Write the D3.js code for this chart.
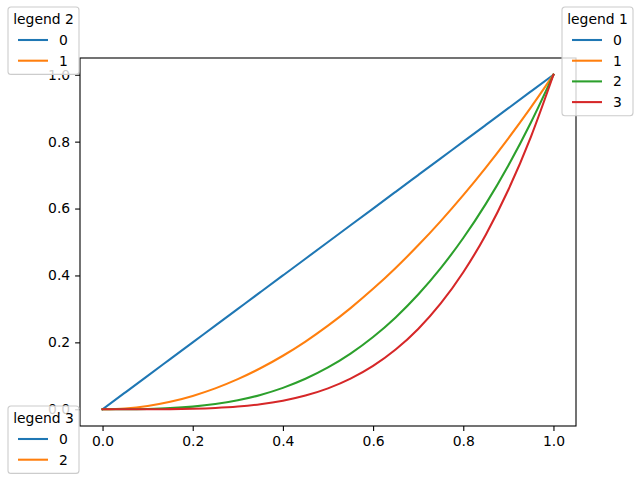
<!DOCTYPE html>
<html lang="en">
<head>
<meta charset="UTF-8"/>
<title>legends</title>
<style>
  body { margin: 0; background: #fff; }
  svg text { font-family: "DejaVu Sans", sans-serif; font-size: 13.9px; fill: #000; }
</style>
</head>
<body>
<svg id="chart" width="640" height="480"></svg>
<script src="https://d3js.org/d3.v7.min.js"></script>
<script type="text/javascript">

    // x positions shared by all series
    var xs = [0, 0.05, 0.1, 0.15, 0.2, 0.25, 0.3, 0.35, 0.4, 0.45, 0.5,
              0.55, 0.6, 0.65, 0.7, 0.75, 0.8, 0.85, 0.9, 0.95, 1];
    var series0 = [0, 0.05, 0.1, 0.15, 0.2, 0.25, 0.3, 0.35, 0.4, 0.45, 0.5,
                   0.55, 0.6, 0.65, 0.7, 0.75, 0.8, 0.85, 0.9, 0.95, 1];
    var series1 = [0, 0.0025, 0.01, 0.0225, 0.04, 0.0625, 0.09, 0.1225, 0.16, 0.2025, 0.25,
                   0.3025, 0.36, 0.4225, 0.49, 0.5625, 0.64, 0.7225, 0.81, 0.9025, 1];
    var series2 = [0, 0.0001, 0.001, 0.0034, 0.008, 0.0156, 0.027, 0.0429, 0.064, 0.0911, 0.125,
                   0.1664, 0.216, 0.2746, 0.343, 0.4219, 0.512, 0.6141, 0.729, 0.8574, 1];
    var series3 = [0, 0, 0.0001, 0.0005, 0.0016, 0.0039, 0.0081, 0.015, 0.0256, 0.041, 0.0625,
                   0.0915, 0.1296, 0.1785, 0.2401, 0.3164, 0.4096, 0.522, 0.6561, 0.8145, 1];
    var colors = ["#1f77b4", "#ff7f0e", "#2ca02c", "#d62728"];
    var xTicks = [0, 0.2, 0.4, 0.6, 0.8, 1.0];
    var yTicks = [0, 0.2, 0.4, 0.6, 0.8, 1.0];

    // legends: title, entries [label, colour index]
    var legend1 = {title: "legend 1", items: [["0", 0], ["1", 1], ["2", 2], ["3", 3]]};
    var legend2 = {title: "legend 2", items: [["0", 0], ["1", 1]]};
    var legend3 = {title: "legend 3", items: [["0", 0], ["2", 1]]};

    var svg = d3.select("#chart");
    var plotL = 80, plotR = 576, plotT = 58, plotB = 426;

    var x = d3.scaleLinear().domain([-0.05, 1.05]).range([plotL, plotR]);
    var y = d3.scaleLinear().domain([-0.05, 1.05]).range([plotB, plotT]);

    var allSeries = [series0, series1, series2, series3];

    // lines
    var line = d3.line()
        .x(function (d) { return x(d[0]); })
        .y(function (d) { return y(d[1]); })
        .curve(d3.curveMonotoneX);

    svg.append("g").selectAll("path")
        .data(allSeries)
        .enter().append("path")
        .attr("d", function (s) { return line(xs.map(function (v, i) { return [v, s[i]]; })); })
        .attr("fill", "none")
        .attr("stroke", function (s, i) { return colors[i]; })
        .attr("stroke-width", 2.08)
        .attr("stroke-linecap", "square");

    // axes
    var xAxis = d3.axisBottom(x).tickValues(xTicks).tickFormat(d3.format(".1f")).tickSizeOuter(0).tickSize(4.9).tickPadding(4.9);
    var yAxis = d3.axisLeft(y).tickValues(yTicks).tickFormat(d3.format(".1f")).tickSizeOuter(0).tickSize(4.9).tickPadding(4.9);

    var gx = svg.append("g").attr("transform", "translate(0," + plotB + ")").call(xAxis);
    var gy = svg.append("g").attr("transform", "translate(" + plotL + ",0)").call(yAxis);
    [gx, gy].forEach(function (g) {
        g.select(".domain").remove();
        g.selectAll("line").attr("stroke", "#000").attr("stroke-width", 1.1);
        g.selectAll("text").style("font-family", "DejaVu Sans").style("font-size", "13.9px").attr("fill", "#000");
    });

    svg.append("rect")
        .attr("x", plotL).attr("y", plotT)
        .attr("width", plotR - plotL).attr("height", plotB - plotT)
        .attr("fill", "none").attr("stroke", "#000").attr("stroke-width", 1.1);

    // legend boxes
    function drawLegend(spec, bx, by) {
        var rowH = 20.7;
        var h = 26 + rowH * spec.items.length;
        var g = svg.append("g").attr("transform", "translate(" + bx + "," + by + ")");
        g.append("rect")
            .attr("x", 0).attr("y", 0)
            .attr("width", 71).attr("height", h)
            .attr("rx", 3).attr("ry", 3)
            .attr("fill", "#fff").attr("fill-opacity", 0.8)
            .attr("stroke", "#cccccc").attr("stroke-width", 1.1);
        g.append("text")
            .attr("x", 35.5).attr("y", 17)
            .attr("text-anchor", "middle")
            .text(spec.title);
        var rows = g.selectAll("g.row")
            .data(spec.items)
            .enter().append("g")
            .attr("transform", function (d, i) { return "translate(0," + (33 + i * rowH) + ")"; });
        rows.append("line")
            .attr("x1", 10).attr("x2", 40)
            .attr("stroke", function (d) { return colors[d[1]]; })
            .attr("stroke-width", 2.08);
        rows.append("text")
            .attr("x", 51).attr("y", 5)
            .text(function (d) { return d[0]; });
    }

    drawLegend(legend2, 8, 7);
    drawLegend(legend1, 562, 7);
    drawLegend(legend3, 8, 406);
</script>
</body>
</html>
